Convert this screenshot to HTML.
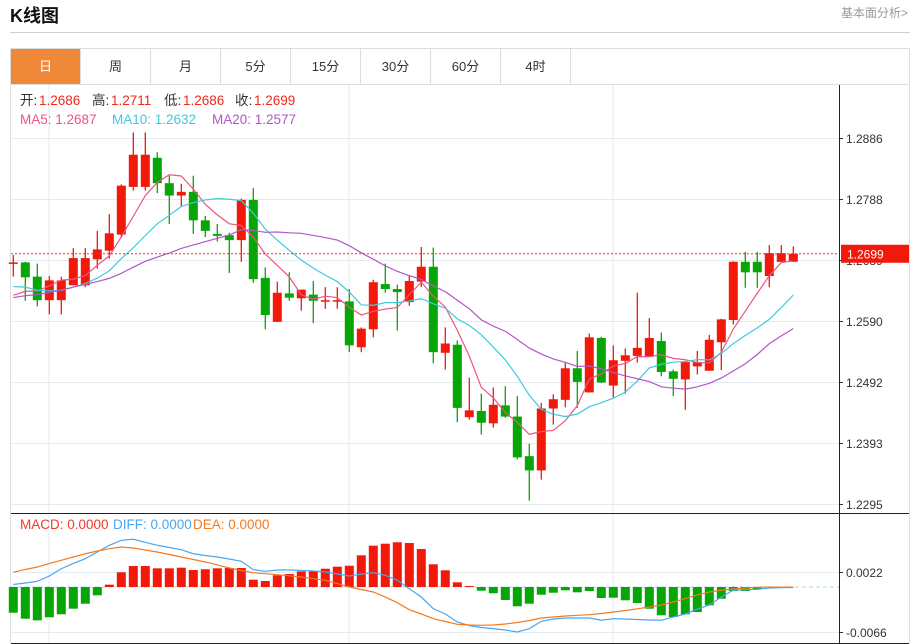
<!DOCTYPE html>
<html><head><meta charset="utf-8"><style>
body{margin:0;width:916px;height:644px;overflow:hidden;background:#fff;font-family:"Liberation Sans","Noto Sans CJK SC",sans-serif;position:relative}
.title{position:absolute;left:10px;top:2px;font-size:18px;font-weight:bold;color:#111}
.more{position:absolute;right:8px;top:4px;font-size:12px;color:#999}
.hr{position:absolute;left:10px;top:32px;width:900px;height:1px;background:#d0d0d0}
.tabs{position:absolute;left:10px;top:48px;width:898px;height:35px;border:1px solid #ddd;box-sizing:content-box}
.tab{position:absolute;top:0;width:70px;height:35px;line-height:35px;text-align:center;font-size:13px;color:#333;border-right:1px solid #ddd;box-sizing:border-box}
.tab.on{background:#f0883a;color:#fff}
svg{position:absolute;left:0;top:0}
</style></head><body>
<div class="title">K线图</div>
<div class="more">基本面分析&gt;</div>
<div class="hr"></div>
<div class="tabs">
<div class="tab on" style="left:0">日</div>
<div class="tab" style="left:70px">周</div>
<div class="tab" style="left:140px">月</div>
<div class="tab" style="left:210px">5分</div>
<div class="tab" style="left:280px">15分</div>
<div class="tab" style="left:350px">30分</div>
<div class="tab" style="left:420px">60分</div>
<div class="tab" style="left:490px">4时</div>
</div>
<svg id="chart" width="916" height="644"></svg>
<script>
const opens=[1.2685,1.2685,1.2662,1.2624,1.2624,1.2648,1.2648,1.2690,1.2704,1.2730,1.2807,1.2807,1.2854,1.2813,1.2793,1.2799,1.2753,1.2731,1.2729,1.2721,1.2786,1.2660,1.2589,1.2635,1.2627,1.2633,1.2623,1.2623,1.2622,1.2548,1.2577,1.2650,1.2642,1.2621,1.2654,1.2678,1.2539,1.2552,1.2435,1.2445,1.2425,1.2454,1.2436,1.2372,1.2349,1.2449,1.2463,1.2514,1.2475,1.2563,1.2486,1.2526,1.2534,1.2533,1.2558,1.2509,1.2496,1.2517,1.2510,1.2556,1.2592,1.2686,1.2686,1.2663,1.2686,1.2686];
const closes=[1.2685,1.2661,1.2624,1.2656,1.2656,1.2692,1.2692,1.2706,1.2732,1.2809,1.2859,1.2859,1.2813,1.2793,1.2799,1.2753,1.2736,1.2728,1.2721,1.2786,1.2658,1.2600,1.2636,1.2628,1.2641,1.2623,1.2624,1.2624,1.2551,1.2578,1.2653,1.2642,1.2637,1.2655,1.2678,1.2540,1.2554,1.2450,1.2446,1.2426,1.2455,1.2436,1.2370,1.2349,1.2449,1.2464,1.2514,1.2492,1.2564,1.2491,1.2527,1.2535,1.2547,1.2563,1.2508,1.2497,1.2524,1.2524,1.2560,1.2593,1.2686,1.2669,1.2669,1.2700,1.2700,1.2699];
const highs=[1.2697,1.2686,1.2683,1.2663,1.2662,1.2708,1.2708,1.2736,1.2763,1.2811,1.2895,1.2895,1.2863,1.2825,1.2812,1.2825,1.2760,1.2747,1.2733,1.2788,1.2805,1.2677,1.2654,1.2669,1.2641,1.2655,1.2645,1.2645,1.2642,1.2580,1.2657,1.2683,1.2649,1.2663,1.2710,1.2709,1.2580,1.2559,1.2499,1.2473,1.2483,1.2485,1.2469,1.2392,1.2458,1.2472,1.2524,1.2542,1.2570,1.2565,1.2551,1.2546,1.2636,1.2595,1.2572,1.2512,1.2526,1.2542,1.2568,1.2594,1.2687,1.2702,1.2702,1.2713,1.2713,1.2711];
const lows=[1.2662,1.2623,1.2614,1.2601,1.2601,1.2648,1.2645,1.2675,1.2691,1.2725,1.2801,1.2801,1.2797,1.2747,1.2776,1.2731,1.2726,1.2719,1.2668,1.2686,1.2652,1.2577,1.2589,1.2623,1.2607,1.2587,1.2610,1.2610,1.2540,1.2540,1.2564,1.2636,1.2575,1.2615,1.2645,1.2522,1.2512,1.2427,1.2431,1.2407,1.2418,1.2434,1.2367,1.2300,1.2334,1.2423,1.2451,1.2450,1.2475,1.2490,1.2467,1.2473,1.2523,1.2533,1.2501,1.2469,1.2447,1.2504,1.2510,1.2511,1.2585,1.2644,1.2644,1.2645,1.2686,1.2686];
const priorCloses=[1.2600,1.2590,1.2580,1.2585,1.2595,1.2605,1.2615,1.2630,1.2645,1.2660,1.2670,1.2675,1.2665,1.2650,1.2640,1.2630,1.2620,1.2615,1.2610];
const macdHist=[-0.00377,-0.00465,-0.00489,-0.00444,-0.00400,-0.00318,-0.00245,-0.00122,0.00034,0.00216,0.00308,0.00308,0.00274,0.00274,0.00283,0.00249,0.00260,0.00274,0.00279,0.00279,0.00107,0.00088,0.00172,0.00191,0.00230,0.00230,0.00268,0.00298,0.00312,0.00465,0.00606,0.00635,0.00656,0.00645,0.00557,0.00333,0.00245,0.00069,0.00015,-0.00054,-0.00092,-0.00191,-0.00283,-0.00245,-0.00113,-0.00084,-0.00048,-0.00078,-0.00059,-0.00161,-0.00157,-0.00195,-0.00235,-0.00318,-0.00415,-0.00440,-0.00400,-0.00367,-0.00268,-0.00172,-0.00059,-0.00059,-0.00034,-0.00007,0,0];
const diffVals=[0.00037,0.00059,0.00084,0.00161,0.00268,0.00345,0.00415,0.00513,0.00612,0.00685,0.00700,0.00656,0.00612,0.00579,0.00547,0.00488,0.00462,0.00440,0.00411,0.00377,0.00254,0.00230,0.00249,0.00249,0.00245,0.00235,0.00220,0.00191,0.00161,0.00191,0.00210,0.00172,0.00098,-0.00025,-0.00147,-0.00318,-0.00396,-0.00513,-0.00565,-0.00594,-0.00611,-0.00631,-0.00660,-0.00611,-0.00503,-0.00469,-0.00455,-0.00455,-0.00455,-0.00488,-0.00465,-0.00469,-0.00477,-0.00484,-0.00488,-0.00440,-0.00396,-0.00323,-0.00264,-0.00147,-0.00048,-0.00039,-0.00034,-0.00015,-0.00010,-0.00007];
const deaVals=[0.00216,0.00257,0.00293,0.00345,0.00392,0.00440,0.00488,0.00528,0.00562,0.00587,0.00572,0.00543,0.00513,0.00477,0.00440,0.00403,0.00367,0.00323,0.00279,0.00242,0.00210,0.00195,0.00180,0.00164,0.00147,0.00122,0.00098,0.00051,0,-0.00037,-0.00073,-0.00147,-0.00230,-0.00333,-0.00396,-0.00465,-0.00506,-0.00547,-0.00557,-0.00562,-0.00557,-0.00543,-0.00521,-0.00491,-0.00455,-0.00440,-0.00425,-0.00415,-0.00406,-0.00389,-0.00367,-0.00345,-0.00320,-0.00293,-0.00264,-0.00220,-0.00169,-0.00117,-0.00073,-0.00048,-0.00029,-0.00015,-0.00004,-0.00001,-0.00001,-0.00001];
const priceTicks=[1.2886,1.2788,1.2689,1.2590,1.2492,1.2393,1.2295];
const macdTicks=[0.0022,-0.0066];
const lastPrice=1.2699;

const NS='http://www.w3.org/2000/svg';
const svg=document.getElementById('chart');
function mk(tag,attrs,parent){const e=document.createElementNS(NS,tag);for(const k in attrs)e.setAttribute(k,attrs[k]);(parent||svg).appendChild(e);return e;}
const yP=v=>138+(1.2886-v)*6190;
const yM=v=>587-v*6818;
const xI=i=>13.3+12*i;

let e;
e=mk('rect',{x:10.5,y:84.5,width:899,height:559,fill:'none',stroke:'#ddd'});


[49,349,613].forEach(x=>{e=mk('line',{x1:x,y1:85,x2:x,y2:643,stroke:'#e3eaf0'});

});
priceTicks.forEach(t=>{const y=Math.round(yP(t))+0.5;
e=mk('line',{x1:11,y1:y,x2:839,y2:y,stroke:'#e3eaf0'});


mk('line',{x1:839,y1:y,x2:843,y2:y,stroke:'#333'});
e=mk('text',{x:846,y:y+4.5,'font-size':12,fill:'#333'});e.textContent=t.toFixed(4);

});
macdTicks.forEach(t=>{const y=Math.round(yM(t))+0.5;
e=mk('line',{x1:11,y1:y,x2:839,y2:y,stroke:'#e3eaf0'});


mk('line',{x1:839,y1:y,x2:843,y2:y,stroke:'#333'});
e=mk('text',{x:846,y:y+4.5,'font-size':12,fill:'#333'});e.textContent=t.toFixed(4);

});
e=mk('line',{x1:839.5,y1:85,x2:839.5,y2:643,stroke:'#222'});


e=mk('line',{x1:11,y1:513.5,x2:909,y2:513.5,stroke:'#222'});


mk('line',{x1:11,y1:643.5,x2:909,y2:643.5,stroke:'#222'});
e=mk('line',{x1:11,y1:yM(0),x2:839,y2:yM(0),stroke:'#a8d8ec','stroke-dasharray':'4,3'});



const RED='#f2180a',GRN='#05a605';
closes.forEach((c,i)=>{const o=opens[i],x=xI(i),col=c>=o?RED:GRN;
const g=mk('g',{});


mk('line',{x1:x,y1:yP(highs[i]),x2:x,y2:yP(lows[i]),stroke:col,'stroke-width':1.3},g);
const t=Math.min(yP(o),yP(c)),h=Math.max(1.5,Math.abs(yP(o)-yP(c)));
mk('rect',{x:x-4.5,y:t,width:9,height:h,fill:col},g);});

const allCloses=priorCloses.concat(closes);
const off=priorCloses.length;
function ma(n){return closes.map((_,i)=>{const j=i+off;const s=Math.max(0,j-n+1);let sum=0;for(let k=s;k<=j;k++)sum+=allCloses[k];return sum/(j-s+1);});}
[[5,'#ef5482','ma5-line'],[10,'#3fc9dd','ma10-line'],[20,'#b456c8','ma20-line']].forEach(([n,c,nm])=>{
const v=ma(n);e=mk('polyline',{points:v.map((p,i)=>xI(i)+','+yP(p)).join(' '),fill:'none',stroke:c,'stroke-width':1.2});

});

e=mk('line',{x1:11,y1:yP(lastPrice),x2:839,y2:yP(lastPrice),stroke:'#f03030','stroke-dasharray':'2,2'});


e=mk('rect',{x:841,y:yP(lastPrice)-9,width:68,height:18,fill:RED});


e=mk('text',{x:847,y:yP(lastPrice)+4.5,'font-size':12,fill:'#fff'});e.textContent=lastPrice.toFixed(4);



macdHist.forEach((v,i)=>{const y0=yM(0),y1=yM(v);
e=mk('rect',{x:xI(i)-4.5,y:Math.min(y0,y1),width:9,height:Math.abs(y1-y0),fill:v>=0?RED:GRN});

});
e=mk('polyline',{points:diffVals.map((v,i)=>xI(i)+','+yM(v)).join(' '),fill:'none',stroke:'#4aa6f0','stroke-width':1.2});


e=mk('polyline',{points:deaVals.map((v,i)=>xI(i)+','+yM(v)).join(' '),fill:'none',stroke:'#f57a1e','stroke-width':1.2});



function txt(y,parts,name){const t=mk('text',{y:y,'font-size':13.5});


parts.forEach(([x,s,c])=>{const sp=mk('tspan',{x:x,fill:c},t);sp.textContent=s;});}
txt(105,[[20,'开:','#333'],[39,'1.2686','#f2281a'],[92,'高:','#333'],[111,'1.2711','#f2281a'],[164,'低:','#333'],[183,'1.2686','#f2281a'],[235,'收:','#333'],[254,'1.2699','#f2281a']],'ohlc-legend');
txt(124,[[20,'MA5:  1.2687','#ef5482'],[112,'MA10:  1.2632','#3fc9dd'],[212,'MA20:  1.2577','#b456c8']],'ma-legend');
txt(529,[[20,'MACD: 0.0000','#f23a2a'],[113,'DIFF: 0.0000','#4aa6f0'],[193,'DEA: 0.0000','#f57a1e']],'macd-legend');
</script>
</body></html>
